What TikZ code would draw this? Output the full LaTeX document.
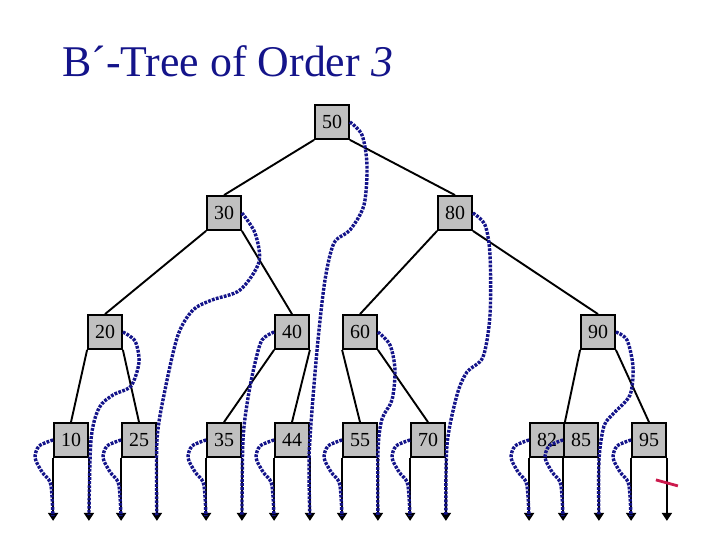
\documentclass[tikz,border=0pt]{standalone}
\usepackage{fontspec}
\setmainfont{Liberation Serif}
\usetikzlibrary{arrows.meta,positioning,calc}
\definecolor{navy}{HTML}{14148A}
\definecolor{keygray}{HTML}{C0C0C0}
\definecolor{nullred}{HTML}{CC1A4D}
\tikzset{>=Triangle,key/.style={draw=black,line width=1.8bp,fill=keygray,minimum size=34bp,inner sep=0pt,font=\fontsize{20}{24}\selectfont},edge/.style={line width=1.9bp},ptr/.style={line width=1.8bp,arrows={-Triangle[length=8bp,width=10bp]}},thread/.style={navy,line width=3.4bp,dash pattern=on 2.8bp off 1.3bp},nullmark/.style={nullred,line width=2.8bp}}

\begin{document}
\begin{tikzpicture}[x=1bp,y=-1bp]
\useasboundingbox (0,0) rectangle (720,540);
\node[anchor=base west,text=navy,font=\fontsize{44}{50}\selectfont,inner sep=0pt] (title) at (62,77) {B´-Tree of Order \textit{3}};
% inner keys
\node[key] (n50) at (332,122) {50};
\node[key] (n30) at (224,213) {30};
\node[key] (n80) at (455,213) {80};
\node[key] (n20) at (105,332) {20};
\node[key] (n40) at (292,332) {40};
\node[key] (n60) at (360,332) {60};
\node[key] (n90) at (598,332) {90};
% leaves
\foreach \k/\x in {10/71,25/139,35/224,44/292,55/360,70/428,82/547,85/581,95/649}
  \node[key] (n\k) at (\x,440) {\k};
% tree edges
\draw[edge] (n50.south west)--(n30.north) (n50.south east)--(n80.north);
\draw[edge] (n30.south west)--(n20.north) (n30.south east)--(n40.north);
\draw[edge] (n80.south west)--(n60.north) (n80.south east)--(n90.north);
\draw[edge] (n20.south west)--(n10.north) (n20.south east)--(n25.north);
\draw[edge] (n40.south west)--(n35.north) (n40.south east)--(n44.north);
\draw[edge] (n60.south west)--(n55.north) (n60.south east)--(n70.north);
\draw[edge] (n90.south west)--(n82.north east) (n90.south east)--(n95.north);
% leaf pointers
\foreach \k in {10,25,35,44,55,70,82,85,95}
  \draw[ptr] (n\k.south west) -- ++(0,63) coordinate (l\k);
\foreach \k in {10,25,35,44,55,70,85,95}
  \draw[ptr] (n\k.south east) -- ++(0,63) coordinate (r\k);
\draw[nullmark] ([shift={(-11,-41)}]r95) -- ([shift={(11,-35)}]r95);
% threads
\foreach \k in {10,25,35,44,55,70,82,85,95}
  \draw[thread,shorten >=6bp] plot[smooth] coordinates {(n\k.west) ([shift={(-14,6)}]n\k.west) ([shift={(-18,18)}]n\k.west) ([shift={(-11,32)}]n\k.west) ([shift={(-3,42)}]n\k.west) ([shift={(-1,58)}]n\k.west) (l\k)};
\draw[thread,shorten >=6bp] plot[smooth] coordinates {(n50.east) (362,135) (367,165) (364,205) (350,230) (334,243) (325,280) (318,340) (312,410) (309,460) (r44)};
\draw[thread,shorten >=6bp] plot[smooth] coordinates {(n30.east) (255,233) (259,262) (240,290) (212,300) (193,310) (178,335) (165,390) (157,440) (r25)};
\draw[thread,shorten >=6bp] plot[smooth] coordinates {(n80.east) (485,225) (490,255) (490,315) (483,357) (467,372) (457,395) (447,445) (r70)};
\draw[thread,shorten >=6bp] plot[smooth] coordinates {(n20.east) (135,341) (139,362) (131,386) (113,395) (99,408) (91,440) (r10)};
\draw[thread,shorten >=6bp] plot[smooth] coordinates {(n40.west) (262,340) (255,363) (248,398) (243,440) (r35)};
\draw[thread,shorten >=6bp] plot[smooth] coordinates {(n60.east) (390,345) (395,370) (392,400) (382,419) (378,450) (r55)};
\draw[thread,shorten >=6bp] plot[smooth] coordinates {(n90.east) (627,340) (633,367) (630,395) (614,413) (604,426) (599,460) (r85)};
\end{tikzpicture}
\end{document}
